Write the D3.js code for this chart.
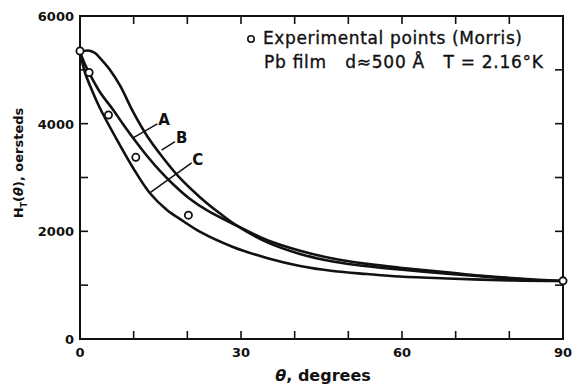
<!DOCTYPE html>
<html>
<head>
<meta charset="utf-8">
<script src="https://cdn.jsdelivr.net/npm/d3@7"></script>
<style>
  body { margin: 0; background: #fff; }
  text { font-family: 'DejaVu Sans', sans-serif; fill: #111; }
</style>
</head>
<body>
<div id="wrapper"></div>
<script>
// the three theory curves: [theta (deg), H_T (oersteds)]
const curveTop = [
  [0, 5331], [1.5, 5359], [2.8, 5313], [3.7, 5220], [5.6, 4997], [7.5, 4700],
  [9.9, 4217], [12.5, 3771], [15.5, 3362], [18.6, 2991], [22.4, 2630],
  [26.1, 2330], [29.3, 2100], [34.8, 1800], [41, 1580], [47.1, 1440],
  [53.5, 1350], [59.6, 1290], [68.4, 1215], [74.5, 1165], [83.9, 1100], [90, 1077]
]
const curveMid = [
  [0, 5331], [0.9, 5108], [1.9, 4904], [3.7, 4588], [6.2, 4254], [8, 3994],
  [9.9, 3734], [12.5, 3399], [14.9, 3121], [17.3, 2880], [20.5, 2601],
  [23.7, 2390], [29.3, 2100], [34.8, 1840], [41, 1640], [47.1, 1495],
  [53.5, 1395], [59.6, 1325], [68.4, 1240], [74.5, 1180], [83.9, 1110], [90, 1077]
]
const curveLow = [
  [0, 5331], [0.9, 4960], [2.2, 4625], [3.7, 4291], [6.9, 3697], [9.9, 3176],
  [13, 2712], [16.2, 2397], [19.2, 2192], [22.4, 1988], [28.5, 1709],
  [34.8, 1505], [41, 1356], [47.1, 1263], [53.5, 1207], [59.6, 1161],
  [68.4, 1124], [80.7, 1087], [90, 1077]
]
// experimental points (Morris)
const expTheta = [0, 1.7, 5.3, 10.4, 20.2, 90]
const expH = [5350, 4950, 4160, 3375, 2300, 1080]

// curve labels and their leader lines
const curveLabels = ['A', 'B', 'C']
const leaderFrom = [[9.9, 3737], [15.2, 3508], [13.0, 2715]]
const leaderTo = [[14.4, 3997], [17.7, 3668], [20.8, 3272]]
const labelAt = [[14.6, 3977], [17.9, 3643], [20.9, 3235]]

const xTicks = [0, 30, 60, 90]
const xMinor = [10, 20, 40, 50, 70, 80]
const yTicks = [0, 2000, 4000, 6000]
const yMinor = [1000, 3000, 5000]

const dimensions = {
  width: 572,
  height: 388,
  margin: { top: 16, right: 9, bottom: 49, left: 80 }
}
dimensions.boundedWidth = dimensions.width - dimensions.margin.left - dimensions.margin.right
dimensions.boundedHeight = dimensions.height - dimensions.margin.top - dimensions.margin.bottom

const svg = d3.select('#wrapper')
  .append('svg')
  .attr('width', dimensions.width)
  .attr('height', dimensions.height)

const bounds = svg.append('g')
  .attr('transform', `translate(${dimensions.margin.left}, ${dimensions.margin.top})`)

const scaleX = d3.scaleLinear().domain([0, 90]).range([0, dimensions.boundedWidth])
const scaleY = d3.scaleLinear().domain([0, 6000]).range([dimensions.boundedHeight, 0])

const ink = '#111'
const tickLen = 8

// frame
bounds.append('rect')
  .attr('width', dimensions.boundedWidth)
  .attr('height', dimensions.boundedHeight)
  .attr('fill', 'none')
  .attr('stroke', ink)
  .attr('stroke-width', 2)

// ticks on all four sides, pointing inward
const allX = xTicks.concat(xMinor).filter(d => d > 0 && d < 90)
const allY = yTicks.concat(yMinor).filter(d => d > 0 && d < 6000)

bounds.append('g').selectAll('line').data(allX).join('line')
  .attr('x1', d => scaleX(d)).attr('x2', d => scaleX(d))
  .attr('y1', dimensions.boundedHeight).attr('y2', dimensions.boundedHeight - tickLen)
  .attr('stroke', ink).attr('stroke-width', 1.6)
bounds.append('g').selectAll('line').data(allX).join('line')
  .attr('x1', d => scaleX(d)).attr('x2', d => scaleX(d))
  .attr('y1', 0).attr('y2', tickLen)
  .attr('stroke', ink).attr('stroke-width', 1.6)
bounds.append('g').selectAll('line').data(allY).join('line')
  .attr('x1', 0).attr('x2', tickLen)
  .attr('y1', d => scaleY(d)).attr('y2', d => scaleY(d))
  .attr('stroke', ink).attr('stroke-width', 1.6)
bounds.append('g').selectAll('line').data(allY).join('line')
  .attr('x1', dimensions.boundedWidth).attr('x2', dimensions.boundedWidth - tickLen)
  .attr('y1', d => scaleY(d)).attr('y2', d => scaleY(d))
  .attr('stroke', ink).attr('stroke-width', 1.6)

// tick labels
bounds.append('g').selectAll('text').data(xTicks).join('text')
  .text(d => d)
  .attr('x', d => scaleX(d))
  .attr('y', dimensions.boundedHeight + 18)
  .style('font-size', '13px')
  .style('font-weight', 'bold')
  .style('text-anchor', 'middle')

bounds.append('g').selectAll('text').data(yTicks).join('text')
  .text(d => d)
  .attr('x', -6)
  .attr('y', d => scaleY(d) + 5)
  .style('font-size', '13px')
  .style('font-weight', 'bold')
  .style('text-anchor', 'end')

// axis titles
const xTitle = svg.append('text')
  .attr('x', 323)
  .attr('y', 381)
  .style('font-size', '16px')
  .style('font-weight', 'bold')
  .style('text-anchor', 'middle')
xTitle.append('tspan').text('θ').style('font-style', 'italic')
xTitle.append('tspan').text(', degrees')

const yTitle = svg.append('text')
  .attr('transform', 'translate(23, 163) rotate(-90)')
  .style('font-size', '13px')
  .style('font-weight', 'bold')
  .style('text-anchor', 'middle')
yTitle.append('tspan').text('H')
yTitle.append('tspan').text('T').attr('dy', 4).style('font-size', '8px')
yTitle.append('tspan').text('(').attr('dy', -4)
yTitle.append('tspan').text('θ').style('font-style', 'italic')
yTitle.append('tspan').text('), oersteds')

// curves
const lineGen = d3.line()
  .x(d => scaleX(d[0]))
  .y(d => scaleY(d[1]))
  .curve(d3.curveCatmullRom.alpha(0.5))

bounds.append('g').selectAll('path').data([curveTop, curveMid, curveLow]).join('path')
  .attr('d', lineGen)
  .attr('fill', 'none')
  .attr('stroke', ink)
  .attr('stroke-width', 2.6)
  .attr('stroke-linejoin', 'round')

// leader lines and labels
bounds.append('g').selectAll('line').data(curveLabels).join('line')
  .attr('x1', (d, i) => scaleX(leaderFrom[i][0]))
  .attr('y1', (d, i) => scaleY(leaderFrom[i][1]))
  .attr('x2', (d, i) => scaleX(leaderTo[i][0]))
  .attr('y2', (d, i) => scaleY(leaderTo[i][1]))
  .attr('stroke', ink)
  .attr('stroke-width', 1.5)

bounds.append('g').selectAll('text').data(curveLabels).join('text')
  .text(d => d)
  .attr('x', (d, i) => scaleX(labelAt[i][0]))
  .attr('y', (d, i) => scaleY(labelAt[i][1]))
  .style('font-size', '15px')
  .style('font-weight', 'bold')

// experimental points
bounds.append('g').selectAll('circle').data(expTheta).join('circle')
  .attr('cx', d => scaleX(d))
  .attr('cy', (d, i) => scaleY(expH[i]))
  .attr('r', 3.6)
  .attr('fill', '#fff')
  .attr('stroke', ink)
  .attr('stroke-width', 1.8)

// legend
const legend = svg.append('g')
  .style('font-size', '17px')
  .style('stroke', ink)
  .style('stroke-width', 0.35)
legend.append('circle')
  .attr('cx', 251).attr('cy', 39).attr('r', 3.2)
  .attr('fill', '#fff').attr('stroke', ink).attr('stroke-width', 1.6)
legend.append('text')
  .text('Experimental points (Morris)')
  .attr('x', 263).attr('y', 44)
  .attr('textLength', 259)
  .attr('lengthAdjust', 'spacing')
legend.append('text')
  .text('Pb film   d≈500 Å   T = 2.16°K')
  .attr('x', 264).attr('y', 68)
  .attr('textLength', 279)
  .attr('lengthAdjust', 'spacing')
  .style('white-space', 'pre')
</script>
</body>
</html>
